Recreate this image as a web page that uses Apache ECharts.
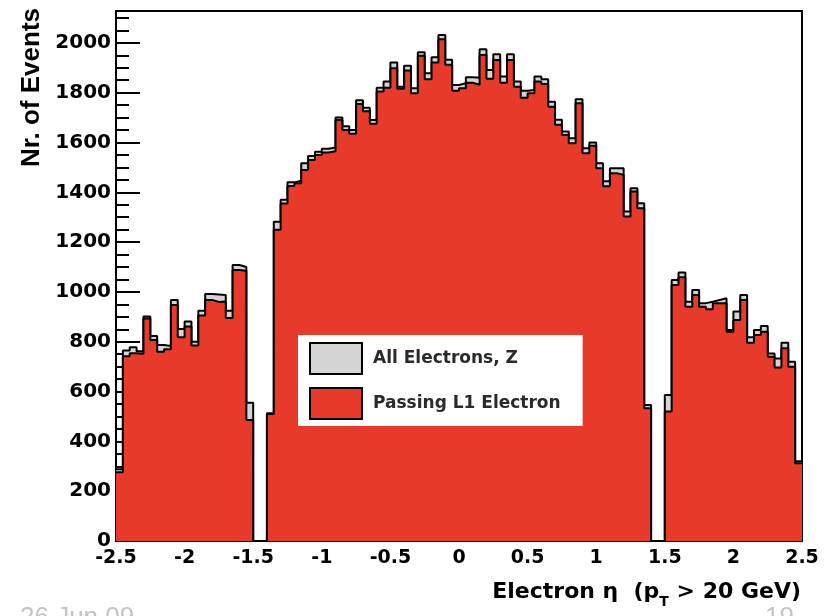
<!DOCTYPE html>
<html>
<head>
<meta charset="utf-8">
<script src="https://cdn.jsdelivr.net/npm/echarts@6/dist/echarts.min.js"></script>
<style>
  html, body { margin: 0; padding: 0; background: #ffffff; }
  #chart { width: 834px; height: 616px; }
</style>
</head>
<body>
<div id="chart"></div>
<script>
// Electron pseudorapidity histogram: 100 bins of width 0.05 from -2.5 to 2.5
const etaMin = -2.5;
const etaMax = 2.5;
const binWidth = 0.05;

// All electrons from Z decays
const allElectrons = [
  288, 765, 778, 762, 901, 823, 787, 783, 968, 851,
  881, 800, 924, 992, 990, 988, 924, 1108, 1100, 555,
  0, 0, 513, 1282, 1370, 1440, 1447, 1517, 1546, 1563,
  1575, 1580, 1700, 1665, 1650, 1770, 1740, 1690, 1820, 1845,
  1921, 1824, 1908, 1818, 1962, 1878, 1942, 2032, 1932, 1831,
  1838, 1862, 1860, 1974, 1891, 1954, 1865, 1954, 1845, 1808,
  1811, 1865, 1854, 1764, 1691, 1644, 1617, 1774, 1577, 1600,
  1517, 1444, 1497, 1497, 1323, 1416, 1356, 546, 0, 0,
  586, 1048, 1078, 961, 1008, 955, 961, 968, 975, 847,
  921, 988, 818, 847, 863, 753, 733, 796, 720, 320
];

// Electrons that also pass the L1 electron trigger
const passingL1 = [
  276, 742, 754, 752, 893, 807, 760, 770, 948, 818,
  861, 785, 905, 968, 960, 962, 895, 1088, 1085, 486,
  0, 0, 510, 1250, 1355, 1425, 1436, 1490, 1530, 1550,
  1560, 1565, 1690, 1650, 1635, 1755, 1725, 1675, 1805, 1820,
  1898, 1816, 1889, 1798, 1948, 1854, 1921, 2015, 1912, 1808,
  1818, 1840, 1832, 1951, 1856, 1931, 1840, 1931, 1824, 1780,
  1798, 1845, 1835, 1744, 1671, 1630, 1597, 1758, 1557, 1587,
  1497, 1424, 1477, 1470, 1303, 1403, 1336, 533, 0, 0,
  520, 1028, 1059, 941, 988, 941, 930, 955, 955, 840,
  887, 968, 796, 827, 840, 740, 697, 774, 700, 312
];

const seriesNames = ['All Electrons, Z', 'Passing L1 Electron'];
const yTop = 2128;

// Step outline points: one point per lower bin edge plus the closing upper edge
function histPoints(counts) {
  const pts = counts.map((v, i) => [Math.round((etaMin + i * binWidth) * 1000) / 1000, v]);
  pts.push([etaMax, counts[counts.length - 1]]);
  return pts;
}

const labelFont = 'DejaVu Sans';
const chart = echarts.init(document.getElementById('chart'), null, { renderer: 'canvas' });

chart.setOption({
  animation: false,
  backgroundColor: '#ffffff',
  grid: {
    left: 116, top: 11, right: 32, bottom: 75,
    show: true, borderColor: '#000', borderWidth: 2, backgroundColor: 'transparent'
  },
  xAxis: [{
    type: 'value', min: etaMin, max: etaMax, interval: 0.5,
    axisLine: { show: true, onZero: false, lineStyle: { color: '#000', width: 2 } },
    axisTick: { show: true, inside: true, length: 14, lineStyle: { color: '#000', width: 2 } },
    minorTick: { show: true, splitNumber: 5, length: 8, lineStyle: { color: '#000', width: 2 } },
    splitLine: { show: false },
    axisLabel: {
      margin: 8, color: '#000', fontFamily: labelFont, fontWeight: 'bold', fontSize: 19,
      formatter: v => String(v)
    }
  }],
  yAxis: [{
    type: 'value', min: 0, max: yTop, interval: 200,
    axisLine: { show: true, onZero: false, lineStyle: { color: '#000', width: 2 } },
    axisTick: { show: true, inside: true, length: 24, lineStyle: { color: '#000', width: 2 } },
    splitLine: { show: false },
    axisLabel: {
      margin: 5, showMaxLabel: false, color: '#000',
      fontFamily: labelFont, fontWeight: 'bold', fontSize: 20,
      formatter: v => String(v)
    }
  }, {
    // minor ticks every 50 events
    type: 'value', position: 'left', offset: 0, min: 0, max: yTop, interval: 50,
    axisLine: { show: false, onZero: false },
    axisTick: { show: true, inside: true, length: 13, lineStyle: { color: '#000', width: 2 } },
    axisLabel: { show: false },
    splitLine: { show: false }
  }],
  legend: {
    left: 298, top: 335, orient: 'vertical',
    backgroundColor: '#ffffff', padding: [7, 22, 6, 11],
    itemWidth: 52, itemHeight: 31, itemGap: 12,
    selectedMode: false,
    textStyle: {
      fontFamily: labelFont, fontWeight: 'bold', fontSize: 17, color: '#2a2a2a',
      padding: [0, 0, 0, 6]
    },
    data: [
      { name: seriesNames[0], icon: 'rect', itemStyle: { color: '#d4d4d4', borderColor: '#000', borderWidth: 2 } },
      { name: seriesNames[1], icon: 'rect', itemStyle: { color: '#e83a2a', borderColor: '#000', borderWidth: 2 } }
    ]
  },
  series: [{
    name: seriesNames[0], type: 'line', step: 'end', symbol: 'none',
    data: histPoints(allElectrons),
    lineStyle: { color: '#000', width: 2 },
    itemStyle: { color: '#d4d4d4' },
    areaStyle: { color: '#d4d4d4', opacity: 1 },
    z: 2
  }, {
    name: seriesNames[1], type: 'line', step: 'end', symbol: 'none',
    data: histPoints(passingL1),
    lineStyle: { color: '#000', width: 2 },
    itemStyle: { color: '#e83a2a' },
    areaStyle: { color: '#e83a2a', opacity: 1 },
    z: 3
  }],
  graphic: [{
    type: 'text', x: 32, y: 8, rotation: Math.PI / 2, z: 10,
    style: {
      text: 'Nr. of Events', fill: '#000',
      font: 'bold 26px "Liberation Sans"', textAlign: 'right', textVerticalAlign: 'middle'
    }
  }, {
    type: 'text', x: 801, y: 592, z: 10,
    style: {
      text: '{a|Electron η  (p}{s|T}{a| > 20 GeV)}', fill: '#000', textAlign: 'right', textVerticalAlign: 'middle',
      rich: {
        a: { fontFamily: labelFont, fontWeight: 'bold', fontSize: 22, fill: '#000' },
        s: { fontFamily: labelFont, fontWeight: 'bold', fontSize: 14, fill: '#000', padding: [20, 0, 0, 0] }
      }
    }
  }, {
    // slide footer, cut by the lower edge
    type: 'text', x: 20, y: 605, z: 10,
    style: {
      text: '26 Jun 09', fill: '#c4c4c4',
      font: '26px "Liberation Sans"', textAlign: 'left', textVerticalAlign: 'top'
    }
  }, {
    type: 'text', x: 794, y: 605, z: 10,
    style: {
      text: '19', fill: '#c4c4c4',
      font: '26px "Liberation Sans"', textAlign: 'right', textVerticalAlign: 'top'
    }
  }]
});
</script>
</body>
</html>
